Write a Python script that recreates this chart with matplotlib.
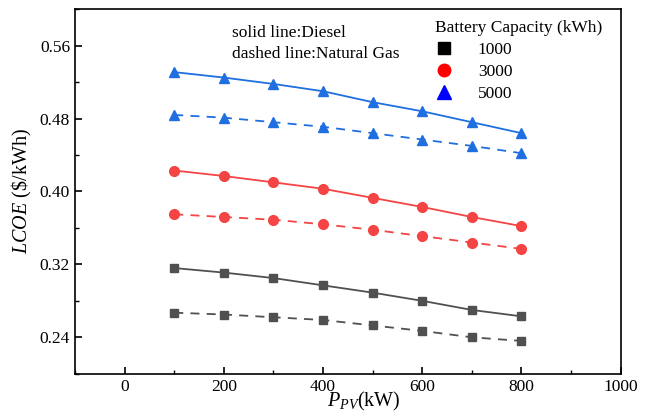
import matplotlib
matplotlib.use("Agg")
import matplotlib.pyplot as plt
from matplotlib.lines import Line2D
from matplotlib.ticker import MultipleLocator

plt.rcParams['font.family'] = 'Liberation Serif'
plt.rcParams['mathtext.fontset'] = 'custom'
plt.rcParams['mathtext.rm'] = 'Liberation Serif'
plt.rcParams['mathtext.it'] = 'Liberation Serif:italic'

# PV capacity (kW)
p_pv = [100, 200, 300, 400, 500, 600, 700, 800]

# LCOE ($/kWh), solid = diesel, dashed = natural gas
diesel_1000 = [0.316, 0.311, 0.305, 0.297, 0.289, 0.280, 0.270, 0.263]
gas_1000 = [0.267, 0.265, 0.262, 0.259, 0.253, 0.247, 0.240, 0.236]
diesel_3000 = [0.423, 0.417, 0.410, 0.403, 0.393, 0.383, 0.372, 0.362]
gas_3000 = [0.375, 0.372, 0.369, 0.364, 0.358, 0.351, 0.344, 0.337]
diesel_5000 = [0.531, 0.525, 0.518, 0.510, 0.498, 0.488, 0.476, 0.464]
gas_5000 = [0.484, 0.481, 0.476, 0.471, 0.464, 0.457, 0.450, 0.442]

capacities = ["1000", "3000", "5000"]

fig, ax = plt.subplots(figsize=(6.52, 4.19), dpi=100)
fig.subplots_adjust(left=0.115, right=0.952, top=0.978, bottom=0.108)

gray, red, blue = '#505050', '#f44444', '#1f6fe0'
ms = 6
ax.plot(p_pv, diesel_1000, '-', marker='s', color=gray, ms=ms, lw=1.3)
ax.plot(p_pv, gas_1000, '--', marker='s', color=gray, ms=ms, lw=1.3, dashes=(5, 4))
ax.plot(p_pv, diesel_3000, '-', marker='o', color=red, ms=ms + 1, lw=1.3)
ax.plot(p_pv, gas_3000, '--', marker='o', color=red, ms=ms + 1, lw=1.3, dashes=(5, 4))
ax.plot(p_pv, diesel_5000, '-', marker='^', color=blue, ms=ms + 1, lw=1.3)
ax.plot(p_pv, gas_5000, '--', marker='^', color=blue, ms=ms + 1, lw=1.3, dashes=(5, 4))

ax.set_xlim(-100, 1000)
ax.set_ylim(0.2, 0.6)
ax.xaxis.set_major_locator(MultipleLocator(200))
ax.xaxis.set_minor_locator(MultipleLocator(100))
ax.set_yticks([0.24, 0.32, 0.40, 0.48, 0.56])
ax.yaxis.set_minor_locator(MultipleLocator(0.04))
ax.set_yticklabels(['0.24', '0.32', '0.40', '0.48', '0.56'])
ax.tick_params(which='both', direction='in', top=False, right=False, labelsize=12.5)
ax.tick_params(which='major', length=5, width=1.2)
ax.tick_params(which='minor', length=3, width=1.0)
for s in ax.spines.values():
    s.set_linewidth(1.2)

ax.set_xlabel(r'$P_{PV}$(kW)', fontsize=14.5, labelpad=1)
ax.xaxis.set_label_coords(0.53, -0.045, transform=ax.transAxes)
ax.xaxis.label.set_va('top')
ax.set_ylabel(r'$LCOE$ (\$/kWh)', fontsize=14.5, labelpad=4)

ax.text(0.288, 0.958, 'solid line:Diesel\ndashed line:Natural Gas',
        transform=ax.transAxes, fontsize=12.5, va='top', ha='left', linespacing=1.45)

handles = [
    Line2D([], [], ls='none', marker='s', color='black', ms=8.5),
    Line2D([], [], ls='none', marker='o', color='red', ms=9),
    Line2D([], [], ls='none', marker='^', color='blue', ms=9.5),
]
leg = ax.legend(handles, capacities, title='Battery Capacity (kWh)', loc='upper left',
                bbox_to_anchor=(0.66, 0.97), frameon=False, fontsize=12.5,
                title_fontsize=12.5, handlelength=1.0, handletextpad=1.45,
                labelspacing=0.34, borderpad=0, borderaxespad=0)
leg._legend_box.align = 'left'

fig.savefig('out.png', dpi=100)
